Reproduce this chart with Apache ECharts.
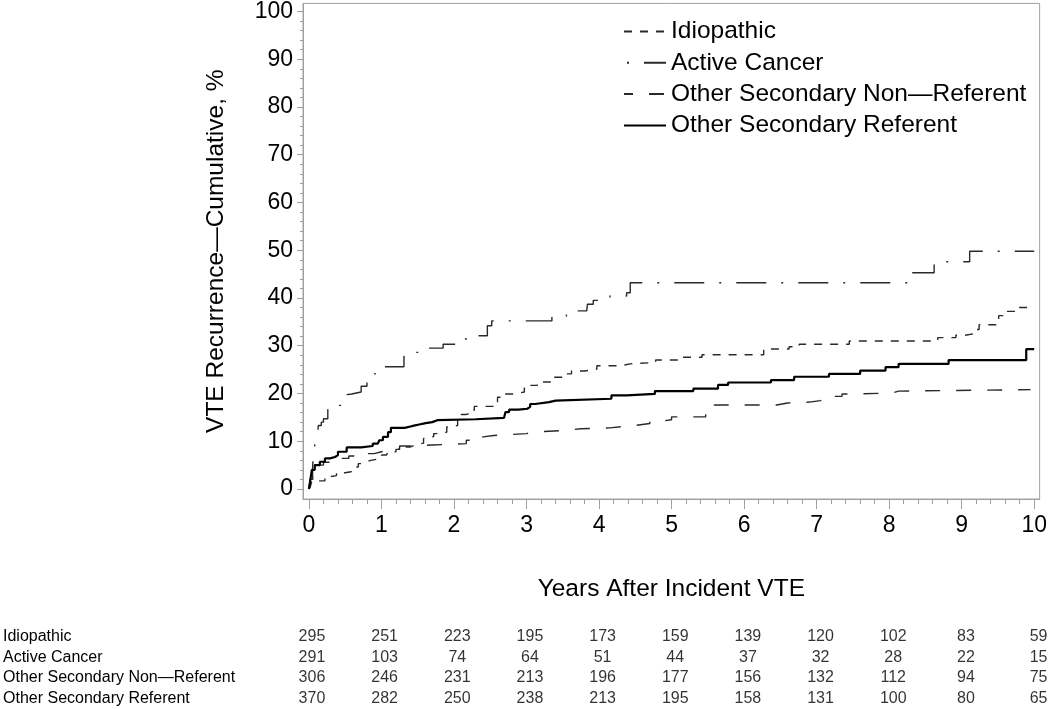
<!DOCTYPE html>
<html>
<head>
<meta charset="utf-8">
<script src="https://cdn.jsdelivr.net/npm/echarts@6/dist/echarts.min.js"></script>
<style>
html,body{margin:0;padding:0;background:#fff;}
#chart{width:1050px;height:709px;}
</style>
</head>
<body>
<div id="chart"></div>
<script>
// ---- Data ----
const groupNames = ['Idiopathic', 'Active Cancer', 'Other Secondary Non\u2014Referent', 'Other Secondary Referent'];
const xMajorTicks = [0,1,2,3,4,5,6,7,8,9,10];
const xMinorTicks = [0.2,0.4,0.6,0.8,1.2,1.4,1.6,1.8,2.2,2.4,2.6,2.8,3.2,3.4,3.6,3.8,4.2,4.4,4.6,4.8,5.2,5.4,5.6,5.8,6.2,6.4,6.6,6.8,7.2,7.4,7.6,7.8,8.2,8.4,8.6,8.8,9.2,9.4,9.6,9.8];
const yMajorTicks = [0,10,20,30,40,50,60,70,80,90,100];
const yMinorTicks = [2,4,6,8,12,14,16,18,22,24,26,28,32,34,36,38,42,44,46,48,52,54,56,58,62,64,66,68,72,74,76,78,82,84,86,88,92,94,96,98];

// cumulative recurrence (%) step curves: [years, percent]
const idiopathic = [[0,0],[0.02,0.5],[0.04,1.7],[0.22,2.6],[0.3,2.8],[0.38,3.4],[0.5,3.6],[0.58,4.0],[0.62,4.6],[0.68,5.3],[0.75,5.7],[0.8,6.0],[0.85,6.4],[1.0,7.1],[1.07,7.3],[1.09,7.8],[1.2,8.3],[1.28,8.8],[1.4,9.2],[1.46,9.6],[1.58,10.6],[1.62,11.0],[1.72,11.6],[1.8,11.9],[1.9,13.0],[1.93,13.3],[2.05,14.8],[2.1,15.6],[2.16,15.8],[2.23,16.5],[2.28,17.3],[2.6,19.2],[2.7,19.9],[2.82,20.3],[2.97,21.7],[3.15,22.4],[3.33,23.4],[3.5,24.1],[3.62,24.7],[3.8,25.1],[3.97,25.8],[4.3,26.2],[4.43,26.5],[4.78,27.0],[5.1,27.6],[5.42,28.1],[6.27,29.3],[6.62,29.8],[6.76,30.3],[7.45,31.0],[8.67,31.7],[8.92,32.2],[9.05,32.6],[9.2,33.4],[9.24,34.4],[9.51,36.3],[9.58,37.2],[9.74,38.0],[10.0,38.1]];
const activeCancer = [[0,0],[0.02,2],[0.05,4.5],[0.06,7],[0.08,9.2],[0.1,10.5],[0.12,11.6],[0.13,13.3],[0.17,14.0],[0.2,14.7],[0.26,17.0],[0.35,17.5],[0.44,17.9],[0.45,19.6],[0.47,19.9],[0.59,20.3],[0.72,21.5],[0.8,23.1],[0.81,24.1],[0.91,24.4],[0.96,25.0],[1.0,25.6],[1.31,27.6],[1.32,28.6],[1.65,29.5],[1.85,30.3],[2.14,31.4],[2.3,32.1],[2.46,34.2],[2.52,35.2],[3.35,36.2],[3.55,37.3],[3.83,37.4],[3.84,38.7],[3.92,39.5],[4.15,40.4],[4.38,41.1],[4.43,43.2],[8.25,45.3],[8.62,47.6],[9.11,49.8],[10.0,49.9]];
const nonReferent = [[0,0],[0.02,2],[0.05,4],[0.1,5],[0.2,5.6],[0.3,6.4],[0.55,6.9],[0.62,7.4],[0.9,7.8],[1.0,8.1],[1.1,8.5],[1.25,9.0],[1.45,9.2],[1.7,9.5],[2.17,10.2],[2.22,10.9],[2.4,11.2],[2.55,11.6],[3.0,11.9],[3.1,12.3],[3.55,12.6],[3.75,12.8],[4.15,13.1],[4.35,13.3],[4.5,13.7],[4.7,14.2],[4.85,14.5],[5.0,15.1],[5.47,15.9],[5.55,16.3],[5.59,17.6],[6.45,18.0],[6.6,18.2],[6.9,18.5],[7.05,18.9],[7.22,19.4],[7.35,19.9],[7.55,20.1],[8.04,20.5],[8.13,20.8],[9.95,20.8]];
const referent = [[0,0],[0.02,2],[0.04,4],[0.08,5],[0.15,5.7],[0.22,6.4],[0.29,6.7],[0.36,7.1],[0.4,7.8],[0.52,8.7],[0.72,9.0],[0.88,9.5],[0.95,9.7],[0.97,10.2],[1.02,10.9],[1.09,11.9],[1.13,12.8],[1.32,13.2],[1.43,13.5],[1.52,13.8],[1.61,14.0],[1.7,14.4],[1.77,14.6],[2.3,14.9],[2.69,15.1],[2.71,16.1],[2.76,16.6],[2.89,16.8],[3.01,17.2],[3.05,17.8],[3.12,18.2],[3.31,18.5],[3.4,18.9],[4.17,19.6],[4.38,19.9],[4.77,20.5],[5.3,21.0],[5.64,21.8],[5.78,22.3],[6.37,22.8],[6.69,23.5],[7.17,24.1],[7.6,24.8],[7.95,25.5],[8.13,26.2],[8.82,27.0],[9.89,29.3],[10.0,29.3]];

// number at risk at each year 0..10
const riskIdiopathic = [295,251,223,195,173,159,139,120,102,83,59];
const riskActiveCancer = [291,103,74,64,51,44,37,32,28,22,15];
const riskNonReferent = [306,246,231,213,196,177,156,132,112,94,75];
const riskReferent = [370,282,250,238,213,195,158,131,100,80,65];

// ---- Build ----
const FONT = '"Liberation Sans", Arial, Helvetica, sans-serif';
const AX = '#a0a0a0';
const XMIN = -0.082, XMAX = 10.075, YMIN = -2.1, YMAX = 101.7;

const riskRows = [riskIdiopathic, riskActiveCancer, riskNonReferent, riskReferent];
const riskData = [];
riskRows.forEach((row, r) => row.forEach((n, i) => riskData.push([xMajorTicks[i], r, n])));

const chart = echarts.init(document.getElementById('chart'), null, {renderer: 'canvas'});
chart.setOption({
  animation: false,
  color: ['#2a2a2a', '#2a2a2a', '#2a2a2a', '#000'],
  textStyle: {fontFamily: FONT},
  grid: [
    {left: 303, right: 6, top: 1, bottom: 210, show: true, borderColor: AX, borderWidth: 1, containLabel: false},
    {left: 303, right: 6, top: 626, height: 84, containLabel: false}
  ],
  legend: {
    orient: 'vertical', left: 618, top: 14,
    itemWidth: 42, itemHeight: 14, itemGap: 6.3,
    itemStyle: {opacity: 0},
    textStyle: {fontSize: 24.5, lineHeight: 24, color: '#000', fontFamily: FONT},
    data: [
      {name: groupNames[0]},
      {name: groupNames[1], lineStyle: {dashOffset: 42}},
      {name: groupNames[2], lineStyle: {dashOffset: 6}},
      {name: groupNames[3]}
    ]
  },
  xAxis: [
    {gridIndex: 0, type: 'value', min: XMIN, max: XMAX, position: 'bottom', offset: 0,
     axisLine: {show: true, onZero: false, lineStyle: {color: AX, width: 1}},
     axisTick: {show: true, customValues: xMajorTicks, length: 10, lineStyle: {color: AX}},
     axisLabel: {customValues: xMajorTicks, fontSize: 23, color: '#000', margin: 15, fontFamily: FONT},
     splitLine: {show: false},
     name: 'Years After Incident VTE', nameLocation: 'middle', nameGap: 78,
     nameTextStyle: {fontSize: 24.5, color: '#000', fontFamily: FONT}},
    {gridIndex: 0, type: 'value', min: XMIN, max: XMAX, position: 'bottom', offset: 0,
     axisLine: {show: false, onZero: false},
     axisTick: {show: true, customValues: xMinorTicks, length: 5, lineStyle: {color: AX}},
     axisLabel: {show: false}, splitLine: {show: false}},
    {gridIndex: 1, type: 'value', min: XMIN, max: XMAX, show: false}
  ],
  yAxis: [
    {gridIndex: 0, type: 'value', min: YMIN, max: YMAX, position: 'left', offset: 0,
     axisLine: {show: true, onZero: false, lineStyle: {color: AX, width: 1}},
     axisTick: {show: true, customValues: yMajorTicks, length: 6, lineStyle: {color: AX}},
     axisLabel: {customValues: yMajorTicks, fontSize: 23, color: '#000', margin: 10, fontFamily: FONT},
     splitLine: {show: false},
     name: 'VTE Recurrence\u2014Cumulative, %', nameLocation: 'middle', nameGap: 74,
     nameTextStyle: {fontSize: 24.5, color: '#000', fontFamily: FONT}},
    {gridIndex: 0, type: 'value', min: YMIN, max: YMAX, position: 'left', offset: 0,
     axisLine: {show: false, onZero: false},
     axisTick: {show: true, customValues: yMinorTicks, length: 3, lineStyle: {color: AX}},
     axisLabel: {show: false}, splitLine: {show: false}},
    {gridIndex: 1, type: 'category', data: groupNames, inverse: true,
     axisLine: {show: false}, axisTick: {show: false}, splitLine: {show: false},
     axisLabel: {interval: 0, hideOverlap: false, align: 'left', margin: 303, fontSize: 16, color: '#000', fontFamily: FONT}}
  ],
  series: [
    {name: groupNames[0], type: 'line', step: 'end', data: idiopathic, symbol: 'none',
     xAxisIndex: 0, yAxisIndex: 0, lineStyle: {color: '#2a2a2a', width: 1.4, type: [8, 8]}},
    {name: groupNames[1], type: 'line', step: 'end', data: activeCancer, symbol: 'none',
     xAxisIndex: 0, yAxisIndex: 0, lineStyle: {color: '#2a2a2a', width: 1.4, type: [30, 15, 2, 15]}},
    {name: groupNames[2], type: 'line', step: 'end', data: nonReferent, symbol: 'none',
     xAxisIndex: 0, yAxisIndex: 0, lineStyle: {color: '#2a2a2a', width: 1.4, type: [15, 16]}},
    {name: groupNames[3], type: 'line', step: 'end', data: referent, symbol: 'none',
     xAxisIndex: 0, yAxisIndex: 0, lineStyle: {color: '#000', width: 2.2, type: 'solid'}},
    {name: 'risk', type: 'scatter', data: riskData, xAxisIndex: 2, yAxisIndex: 2,
     symbolSize: 1, itemStyle: {color: 'rgba(0,0,0,0)'}, silent: true,
     label: {show: true, position: 'inside', formatter: p => String(p.value[2]),
             fontSize: 16, color: '#000', fontFamily: FONT}}
  ]
});
</script>
</body>
</html>
